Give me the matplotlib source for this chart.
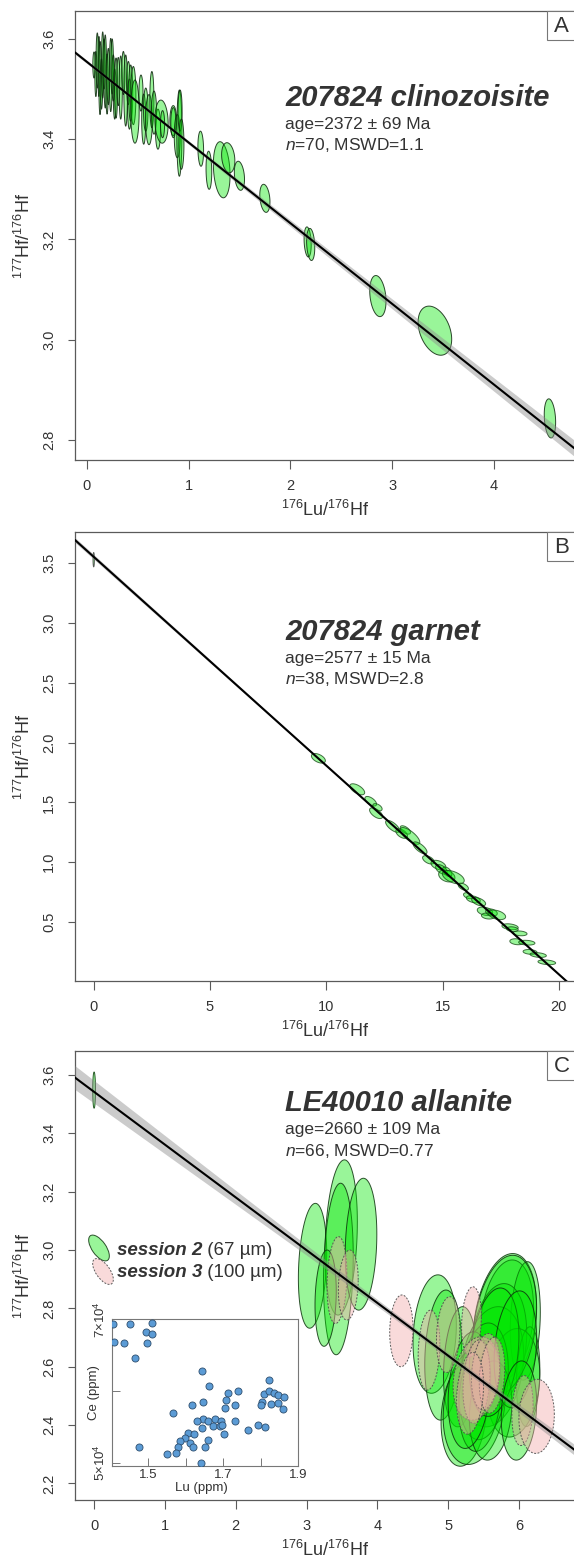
import numpy as np
import matplotlib.pyplot as plt
from matplotlib.patches import Rectangle, Ellipse

plt.rcParams['font.family'] = ['Liberation Sans', 'DejaVu Sans']
plt.rcParams['mathtext.fontset'] = 'custom'
plt.rcParams['mathtext.rm'] = 'Liberation Sans'
plt.rcParams['mathtext.it'] = 'Liberation Sans:italic'
plt.rcParams['mathtext.bf'] = 'Liberation Sans:bold'

# === Panel A : 207824 clinozoisite (x, y, demi-axes, rho) ===
a_x = [0.072, 0.09, 0.104, 0.12, 0.131, 0.145, 0.157, 0.17, 0.182, 0.2, 0.212, 0.236, 0.25,
       0.261, 0.275, 0.288, 0.31, 0.334, 0.36, 0.383, 0.409, 0.42, 0.432, 0.458, 0.474, 0.533,
       0.56, 0.58, 0.612, 0.64, 0.661, 0.70, 0.735, 0.745, 0.85, 0.851, 0.89, 0.91, 0.917, 0.93,
       1.12, 1.20, 1.326, 1.39, 1.50, 1.75, 2.17, 2.20, 2.86, 3.42, 4.55]
a_y = [3.548, 3.53, 3.557, 3.545, 3.522, 3.51, 3.548, 3.55, 3.535, 3.51, 3.525, 3.528, 3.545,
       3.522, 3.49, 3.502, 3.515, 3.503, 3.532, 3.497, 3.512, 3.47, 3.492, 3.487, 3.455, 3.492,
       3.44, 3.459, 3.439, 3.479, 3.453, 3.42, 3.435, 3.43, 3.437, 3.433, 3.406, 3.412, 3.457, 3.39,
       3.381, 3.338, 3.339, 3.363, 3.327, 3.282, 3.195, 3.19, 3.087, 3.018, 2.843]
a_hx = [0.012, 0.01, 0.012, 0.01, 0.012, 0.012, 0.012, 0.012, 0.013, 0.012, 0.013, 0.014, 0.013,
        0.014, 0.014, 0.015, 0.015, 0.016, 0.016, 0.018, 0.018, 0.02, 0.02, 0.025, 0.041, 0.02,
        0.02, 0.022, 0.033, 0.02, 0.025, 0.025, 0.065, 0.02, 0.033, 0.025, 0.03, 0.025, 0.02, 0.025,
        0.028, 0.028, 0.082, 0.065, 0.05, 0.05, 0.035, 0.04, 0.08, 0.165, 0.056]
a_hy = [0.026, 0.045, 0.055, 0.06, 0.073, 0.05, 0.066, 0.05, 0.073, 0.06, 0.056, 0.073, 0.055,
        0.046, 0.05, 0.06, 0.048, 0.063, 0.043, 0.071, 0.043, 0.05, 0.056, 0.058, 0.063, 0.036,
        0.05, 0.043, 0.05, 0.056, 0.043, 0.04, 0.043, 0.027, 0.03, 0.03, 0.043, 0.086, 0.041, 0.05,
        0.035, 0.038, 0.056, 0.03, 0.029, 0.028, 0.03, 0.032, 0.041, 0.049, 0.039]
a_rho = [0, 0, 0, 0, 0, 0, 0, 0, 0, 0, 0, 0, 0,
         0, 0, 0, 0, 0, 0, 0, 0, 0, 0, 0, 0, 0,
         0, 0, 0, 0, 0, 0, -0.1, 0, 0, 0, 0, 0, 0, 0,
         -0.1, -0.1, -0.2, -0.2, -0.25, -0.25, -0.2, -0.2, -0.25, -0.35, -0.2]

# === Panel B : 207824 garnet ===
b_x = [9.66, 11.33, 11.91, 12.14, 12.2, 12.85, 13.24, 13.4, 13.6, 14.03, 14.39, 14.82, 14.95,
       15.18, 15.2, 15.46, 15.89, 16.1, 16.32, 16.55, 16.82, 16.95, 17.1, 17.33, 17.9, 18.0,
       18.19, 18.33, 18.62, 18.76, 19.11, 19.48]
b_y = [1.869, 1.61, 1.51, 1.41, 1.46, 1.30, 1.24, 1.27, 1.22, 1.12, 1.02, 0.976, 0.94,
       0.885, 0.92, 0.875, 0.795, 0.72, 0.69, 0.67, 0.59, 0.55, 0.58, 0.56, 0.46, 0.44,
       0.335, 0.405, 0.327, 0.25, 0.224, 0.163]
b_hx = [0.30, 0.32, 0.25, 0.28, 0.2, 0.30, 0.25, 0.22, 0.42, 0.30, 0.25, 0.32, 0.25,
        0.35, 0.2, 0.47, 0.22, 0.2, 0.30, 0.30, 0.33, 0.28, 0.25, 0.38, 0.35, 0.25,
        0.30, 0.30, 0.35, 0.30, 0.35, 0.38]
b_hy = [0.04, 0.046, 0.04, 0.045, 0.03, 0.05, 0.04, 0.035, 0.07, 0.05, 0.035, 0.04, 0.04,
        0.05, 0.04, 0.056, 0.03, 0.025, 0.03, 0.035, 0.035, 0.025, 0.03, 0.04, 0.025, 0.02,
        0.025, 0.02, 0.02, 0.02, 0.02, 0.02]
b_rho = [-0.5, -0.6, -0.6, -0.6, -0.5, -0.7, -0.5, -0.6, -0.75, -0.7, -0.5, -0.4, -0.5,
         -0.3, -0.5, -0.5, -0.5, -0.4, -0.4, -0.5, -0.3, -0.2, -0.3, -0.4, -0.3, -0.2,
         -0.2, -0.2, -0.2, -0.2, -0.3, -0.3]
b0 = (0.0, 3.53, 0.03, 0.06)

# === Panel C : LE40010 allanite ===
# session 2 (67 µm)
c2_x = [3.085, 3.49, 3.45, 3.77, 3.27, 4.81, 4.93, 5.17, 5.80, 5.83, 6.09, 5.71, 5.62, 6.13,
        5.92, 5.22, 5.37, 5.80, 5.5, 5.45, 5.6, 5.3, 5.65, 5.95, 6.0]
c2_y = [2.946, 3.043, 2.935, 3.02, 2.835, 2.712, 2.64, 2.60, 2.754, 2.76, 2.757, 2.674, 2.60, 2.566,
        2.545, 2.436, 2.468, 2.742, 2.55, 2.5, 2.45, 2.52, 2.65, 2.66, 2.45]
c2_hx = [0.20, 0.228, 0.21, 0.223, 0.15, 0.306, 0.26, 0.235, 0.447, 0.377, 0.212, 0.40, 0.447, 0.165,
         0.375, 0.32, 0.44, 0.45, 0.35, 0.3, 0.3, 0.3, 0.35, 0.3, 0.25]
c2_hy = [0.214, 0.266, 0.294, 0.226, 0.165, 0.203, 0.223, 0.206, 0.234, 0.206, 0.203, 0.211, 0.206, 0.171,
         0.186, 0.177, 0.203, 0.24, 0.2, 0.19, 0.17, 0.2, 0.22, 0.2, 0.17]
c2_rho = [0.2, 0.2, 0.15, 0.15, 0.15, 0.15, 0.15, 0.15, 0.25, 0.2, 0.15, 0.2, 0.2, 0.15,
          0.15, 0.15, 0.2, 0.25, 0.2, 0.2, 0.15, 0.2, 0.25, 0.2, 0.15]
# session 3 (100 µm)
c3_x = [3.43, 3.59, 4.34, 4.73, 5.0, 5.33, 5.40, 5.40, 5.53, 5.62, 5.31, 6.05, 6.25]
c3_y = [2.897, 2.88, 2.723, 2.657, 2.71, 2.754, 2.56, 2.549, 2.583, 2.571, 2.509, 2.45, 2.43]
c3_hx = [0.14, 0.14, 0.165, 0.153, 0.165, 0.14, 0.33, 0.19, 0.20, 0.18, 0.19, 0.15, 0.25]
c3_hy = [0.149, 0.12, 0.123, 0.137, 0.13, 0.12, 0.143, 0.143, 0.131, 0.13, 0.14, 0.12, 0.127]
c3_rho = [0.15, 0.15, 0.05, 0.15, 0.15, 0.15, 0.2, 0.2, 0.2, 0.2, 0.2, 0.15, 0.05]
c0 = (0.0, 3.548, 0.02, 0.062)

# Encart Ce vs Lu
lu_ppm = [1.405, 1.451, 1.510, 1.494, 1.510, 1.410, 1.436, 1.498, 1.464, 1.643, 1.662, 1.823,
          1.712, 1.740, 1.808, 1.823, 1.834, 1.847, 1.862, 1.645, 1.707, 1.803, 1.827, 1.847,
          1.616, 1.731, 1.705, 1.800, 1.859, 1.567, 1.645, 1.659, 1.678, 1.693, 1.731, 1.674,
          1.690, 1.697, 1.631, 1.643, 1.792, 1.810, 1.765, 1.702, 1.605, 1.622, 1.597, 1.585,
          1.611, 1.619, 1.579, 1.659, 1.651, 1.575, 1.551, 1.475, 1.640]
ce_ppm = [69270, 69270, 69410, 68150, 67970, 66850, 66710, 66710, 64660, 62800, 60640, 61580,
          59760, 59940, 59620, 59940, 59760, 59380, 59160, 58460, 58690, 58460, 58130, 58400,
          57990, 57990, 57660, 57990, 57520, 56920, 56130, 55800, 56060, 55900, 55900, 55190,
          55190, 55330, 55890, 54830, 55330, 55050, 54590, 54030, 54170, 54030, 53470, 53010,
          52770, 52170, 52170, 53150, 52170, 51370, 51190, 52250, 49970]

# === Droites isochrones (ordonnée, pente, enveloppe) ===
fits = {
    'A': dict(a=3.5545, b=-0.161, h0=0.003, xc=0.4, s=0.0036),
    'B': dict(a=3.554, b=-0.1746, h0=0.003, xc=15.0, s=0.0013),
    'C': dict(a=3.542, b=-0.1808, h0=0.010, xc=4.8, s=0.0078),
}
titles = ['207824 clinozoisite', '207824 garnet', 'LE40010 allanite']
ages = ['age=2372 ± 69 Ma', 'age=2577 ± 15 Ma', 'age=2660 ± 109 Ma']
stats = [r'$n$=70, MSWD=1.1', r'$n$=38, MSWD=2.8', r'$n$=66, MSWD=0.77']
sessions = [('session 2', ' (67 µm)'), ('session 3', ' (100 µm)')]

W, H = 574, 1558
TXT = '#333333'
SPN = '#5a5a5a'
GREEN = (0.0, 0.9, 0.0, 0.4)
PINK = (0.95, 0.68, 0.68, 0.45)


def box(left, top, right, bottom):
    return [left / W, 1 - bottom / H, (right - left) / W, (bottom - top) / H]


def draw_ellipses(ax, xs, ys, hxs, hys, rhos, fc, ec, lw=0.7, ls='-'):
    t = np.linspace(0, 2 * np.pi, 90)
    for x, y, hx, hy, r in zip(xs, ys, hxs, hys, rhos):
        ex = x + hx * np.cos(t)
        ey = y + hy * (r * np.cos(t) + np.sqrt(1 - r * r) * np.sin(t))
        ax.fill(ex, ey, facecolor=fc, edgecolor=ec, linewidth=lw, linestyle=ls, zorder=2)


def draw_isochron(ax, p, xlim):
    xx = np.linspace(xlim[0], xlim[1], 300)
    yy = p['a'] + p['b'] * xx
    hw = np.sqrt(p['h0'] ** 2 + ((xx - p['xc']) * p['s']) ** 2)
    ax.fill_between(xx, yy - hw, yy + hw, color='#8c8c8c', alpha=0.45, lw=0, zorder=3)
    ax.plot(xx, yy, color='black', lw=1.5, zorder=4)


def style_axes(ax, xlim, ylim, xticks, yticks, ylabels):
    ax.set_xlim(xlim)
    ax.set_ylim(ylim)
    ax.set_xticks(xticks)
    ax.set_yticks(yticks, labels=ylabels)
    for s in ax.spines.values():
        s.set_color(SPN)
        s.set_linewidth(0.9)
    ax.tick_params(axis='x', direction='out', length=6.5, width=0.8, color=SPN,
                   labelsize=10.5, labelcolor=TXT, pad=7)
    ax.tick_params(axis='y', direction='out', length=5.3, width=0.8, color=SPN,
                   labelsize=10.5, labelcolor=TXT, pad=8, labelrotation=90)
    for lbl in ax.get_yticklabels():
        lbl.set_va('center')
    ax.set_xlabel(r'$^{176}$Lu/$^{176}$Hf', fontsize=13, color=TXT, labelpad=5)
    ax.set_ylabel(r'$^{177}$Hf/$^{176}$Hf', fontsize=13, color=TXT, labelpad=6)


def panel_text(top_px, base_px, i, letter):
    x0 = 285 / W
    fig.text(x0, 1 - base_px[0] / H, titles[i], fontsize=21, fontweight='bold',
             fontstyle='italic', color=TXT, va='baseline')
    fig.text(x0, 1 - base_px[1] / H, ages[i], fontsize=12.5, color=TXT, va='baseline')
    fig.text(x0, 1 - base_px[2] / H, stats[i], fontsize=12.5, color=TXT, va='baseline')
    fig.add_artist(Rectangle((547 / W, 1 - (top_px + 29) / H), 40 / W, 29 / H,
                             transform=fig.transFigure, facecolor='white',
                             edgecolor='#777777', linewidth=0.8, zorder=10))
    fig.text(561.5 / W, 1 - (top_px + 15) / H, letter, fontsize=16, color=TXT,
             ha='center', va='center', zorder=11)


fig = plt.figure(figsize=(W / 100, H / 100), dpi=100)

# --- A ---
axA = fig.add_axes(box(74.7, 11, 576, 460))
xlimA = (-0.118, 4.806)
draw_ellipses(axA, a_x, a_y, a_hx, a_hy, a_rho, GREEN, (0.05, 0.15, 0.05, 0.85))
draw_isochron(axA, fits['A'], xlimA)
style_axes(axA, xlimA, (2.760, 3.6557), [0, 1, 2, 3, 4], [2.8, 3.0, 3.2, 3.4, 3.6],
           ['2.8', '3.0', '3.2', '3.4', '3.6'])
panel_text(11, (106, 129, 150), 0, 'A')

# --- B ---
axB = fig.add_axes(box(74.7, 532.3, 576, 981))
xlimB = (-0.817, 20.735)
draw_ellipses(axB, b_x, b_y, b_hx, b_hy, b_rho, GREEN, (0.1, 0.3, 0.1, 0.8))
draw_ellipses(axB, [b0[0]], [b0[1]], [b0[2]], [b0[3]], [0.0], GREEN, (0.3, 0.3, 0.3, 0.9))
draw_isochron(axB, fits['B'], xlimB)
style_axes(axB, xlimB, (0.0067, 3.759), [0, 5, 10, 15, 20],
           [0.5, 1.0, 1.5, 2.0, 2.5, 3.0, 3.5],
           ['0.5', '1.0', '1.5', '2.0', '2.5', '3.0', '3.5'])
panel_text(532.3, (640, 663, 684), 1, 'B')

# --- C ---
axC = fig.add_axes(box(74.7, 1051, 576, 1500.4))
xlimC = (-0.274, 6.806)
draw_ellipses(axC, c2_x, c2_y, c2_hx, c2_hy, c2_rho, GREEN, (0.05, 0.2, 0.05, 0.85))
draw_ellipses(axC, [c0[0]], [c0[1]], [c0[2]], [c0[3]], [0.0], GREEN, (0.1, 0.3, 0.1, 0.9))
draw_ellipses(axC, c3_x, c3_y, c3_hx, c3_hy, c3_rho, PINK, (0.3, 0.3, 0.3, 0.9),
              lw=0.7, ls=(0, (2, 1.5)))
draw_isochron(axC, fits['C'], xlimC)
style_axes(axC, xlimC, (2.142, 3.682), [0, 1, 2, 3, 4, 5, 6],
           [2.2, 2.4, 2.6, 2.8, 3.0, 3.2, 3.4, 3.6],
           ['2.2', '2.4', '2.6', '2.8', '3.0', '3.2', '3.4', '3.6'])
panel_text(1051, (1111, 1134, 1156), 2, 'C')

# legende sessions
fig.add_artist(Ellipse((99 / 100, (H - 1248) / 100), 0.30, 0.14, angle=-55,
                       transform=fig.dpi_scale_trans, facecolor=GREEN,
                       edgecolor=(0.05, 0.2, 0.05, 0.85), linewidth=0.7))
fig.add_artist(Ellipse((103 / 100, (H - 1271.5) / 100), 0.30, 0.14, angle=-55,
                       transform=fig.dpi_scale_trans, facecolor=PINK,
                       edgecolor=(0.3, 0.3, 0.3, 0.9), linewidth=0.7, linestyle=(0, (2, 1.5))))
for base, (sess, size) in zip([1255, 1277], sessions):
    t1 = fig.text(117 / W, 1 - base / H, sess, fontsize=13.5, fontweight='bold',
                  fontstyle='italic', color=TXT, va='baseline')
    axC.annotate(size, xy=(1, 0), xycoords=t1, va='bottom', ha='left',
                 fontsize=13.5, color=TXT, annotation_clip=False)

# encart
axI = fig.add_axes(box(111.7, 1319, 298.3, 1466))
axI.scatter(lu_ppm, ce_ppm, s=26, facecolor='#5b9bd5', edgecolor='#2e4e6e',
            linewidth=0.6, zorder=3)
axI.set_xlim(1.4027, 1.9)
axI.set_ylim(49580, 70014)
axI.set_xticks([1.5, 1.6, 1.7, 1.8, 1.9], labels=['1.5', '', '1.7', '', '1.9'])
axI.set_yticks([50000, 60000, 70000],
               labels=[r'5$\times$10$^4$', '', r'7$\times$10$^4$'])
for s in axI.spines.values():
    s.set_color('#777777')
    s.set_linewidth(0.8)
axI.tick_params(axis='both', direction='in', length=5.5, width=0.7, color='#777777',
                labelsize=9.5, labelcolor=TXT, pad=2.5)
axI.tick_params(axis='y', labelrotation=90)
for lbl in axI.get_yticklabels():
    lbl.set_va('center')
axI.text(0.4786, -0.152, 'Lu (ppm)', transform=axI.transAxes, fontsize=9.5,
         color=TXT, ha='center', va='center')
axI.text(-0.095, 0.5, 'Ce (ppm)', transform=axI.transAxes, fontsize=9.5,
         color=TXT, ha='center', va='center', rotation=90)

fig.savefig('out.png', dpi=100)
